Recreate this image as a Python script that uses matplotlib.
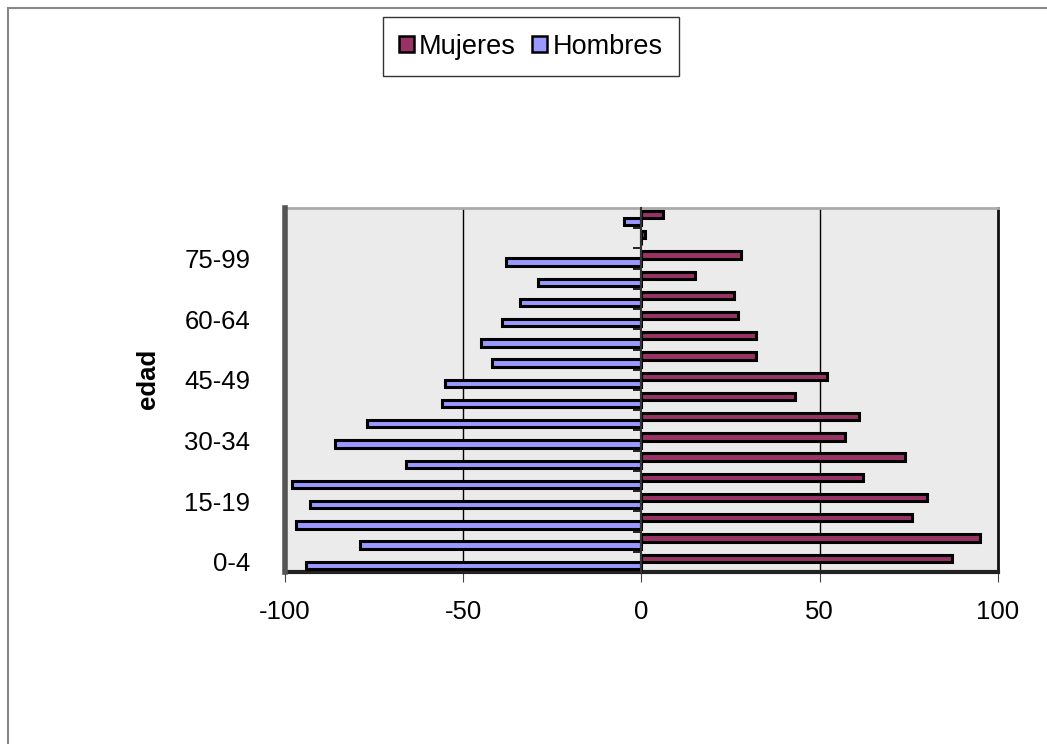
import numpy as np
import matplotlib
matplotlib.use("Agg")
import matplotlib.pyplot as plt
from matplotlib.patches import Rectangle, Patch

plt.rcParams['font.family'] = ['Liberation Sans', 'DejaVu Sans']

# grupos de edad (de abajo hacia arriba)
edades = ['0-4', '5-9', '10-14', '15-19', '20-24', '25-29', '30-34', '35-39',
          '40-44', '45-49', '50-54', '55-59', '60-64', '65-69', '70-74',
          '75-99', '', '']
mujeres = [87, 95, 76, 80, 62, 74, 57, 61, 43, 52, 32, 32, 27, 26, 15, 28, 1, 6]
hombres = [-94, -79, -97, -93, -98, -66, -86, -77, -56, -55, -42, -45, -39, -34, -29, -38, 0, -5]
xticks = [-100, -50, 0, 50, 100]

col_muj = '#993366'
col_hom = '#9999ff'

fig = plt.figure(figsize=(10.47, 7.44), dpi=100)
ax = fig.add_axes([0.2722, 0.2312, 0.681, 0.4892])
ax.set_facecolor('#ebebeb')

n = len(edades)
y = np.arange(n)
alto = 0.36
ax.barh(y + 0.33, hombres, height=alto, color=col_hom, edgecolor='black', linewidth=2.2, zorder=3)
ax.barh(y + 0.68, mujeres, height=alto, color=col_muj, edgecolor='black', linewidth=2.2, zorder=3)

ax.set_xlim(-100, 100)
ax.set_ylim(0, n)

# eje de categorias en x=0, marcas en los limites
ax.spines['left'].set_position(('data', 0))
ax.spines['left'].set_color('#333333')
ax.spines['left'].set_linewidth(1.5)
ax.spines['left'].set_zorder(4)
ax.set_yticks(np.arange(n))
ax.set_yticklabels([])
ax.tick_params(axis='y', direction='out', length=6, width=1.2, color='black')

ax.set_xticks(xticks)
ax.set_xticklabels([str(v) for v in xticks], fontsize=18.5)
ax.tick_params(axis='x', direction='out', length=7, width=0.8, color='#444444', pad=13)
ax.grid(axis='x', color='black', linewidth=1.0, zorder=1)
gl = ax.get_xgridlines()
for i in (0, 2, 4):
    gl[i].set_visible(False)

ax.spines['bottom'].set_color('#222222')
ax.spines['bottom'].set_linewidth(3)
ax.spines['top'].set_color('#aaaaaa')
ax.spines['top'].set_linewidth(2)
ax.spines['right'].set_color('#111111')
ax.spines['right'].set_linewidth(2)

# etiquetas de edad a la izquierda del area de trazado
ax2 = ax.twinx()
ax2.set_ylim(0, n)
ax2.yaxis.tick_left()
ax2.yaxis.set_label_position('left')
idx = np.arange(0, n, 3)
ax2.set_yticks(idx + 0.5)
ax2.set_yticklabels([edades[i] for i in idx], fontsize=18.5)
ax2.tick_params(axis='y', length=0, pad=25)
for s in ('top', 'right', 'bottom'):
    ax2.spines[s].set_visible(False)
ax2.spines['left'].set_color('#555555')
ax2.spines['left'].set_linewidth(4)
ax2.set_ylabel('edad', fontsize=18.5, fontweight='bold')
ax2.yaxis.set_label_coords(-0.175, 0.53)

handles = [Patch(facecolor=col_muj, edgecolor='black', linewidth=1.8),
           Patch(facecolor=col_hom, edgecolor='black', linewidth=1.8)]
leg = fig.legend(handles, ['Mujeres', 'Hombres'], loc='center', ncol=2,
                 bbox_to_anchor=(0.507, 0.9375), fontsize=19.5, frameon=True,
                 fancybox=False, edgecolor='black', handlelength=0.55,
                 handleheight=0.55, handletextpad=0.2, columnspacing=0.6,
                 borderpad=0.6, borderaxespad=0)
leg.get_frame().set_linewidth(1.0)

# borde del area del grafico
fig.patches.append(Rectangle((8 / 1047, -0.1), 1.2, 1.1 - 8 / 744,
                             transform=fig.transFigure, fill=False,
                             edgecolor='#888888', linewidth=1.5))

fig.savefig('out.png', dpi=100)
